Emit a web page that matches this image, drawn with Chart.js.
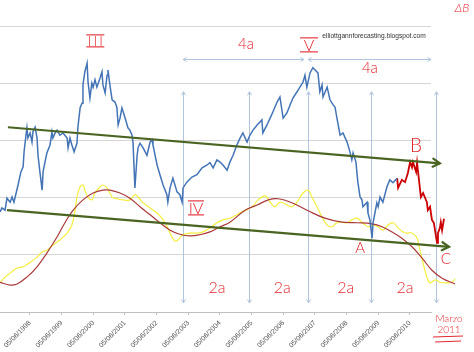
<!DOCTYPE html>
<html><head><meta charset="utf-8">
<script src="https://cdn.jsdelivr.net/npm/chart.js@4/dist/chart.umd.min.js"></script>
<style>html,body{margin:0;padding:0;background:#fff;}canvas{display:block}</style>
</head><body>
<canvas id="c" width="474" height="352"></canvas>
<script>
// ---- data (x in decimal years, y in index points) ----
const tickYears = [1998,1999,2000,2001,2002,2003,2004,2005,2006,2007,2008,2009,2010];
const X_MIN = 1997.48, X_MAX = 2011.09;

const priceDates = [1997.48,1997.54,1997.64,1997.70,1997.80,1997.86,1997.92,1997.99,1998.05,1998.14,
1998.21,1998.24,1998.30,1998.33,1998.36,1998.43,1998.49,1998.52,1998.59,1998.65,
1998.68,1998.74,1998.81,1998.84,1998.90,1998.96,1999.06,1999.12,1999.15,1999.22,
1999.28,1999.37,1999.47,1999.60,1999.63,1999.69,1999.75,1999.82,1999.91,1999.94,
2000.01,2000.07,2000.10,2000.16,2000.23,2000.26,2000.32,2000.38,2000.42,2000.48,
2000.54,2000.64,2000.70,2000.73,2000.80,2000.86,2000.89,2000.95,2001.02,2001.11,
2001.17,2001.21,2001.27,2001.33,2001.43,2001.52,2001.58,2001.65,2001.68,2001.74,
2001.81,2001.84,2001.90,2002.00,2002.12,2002.22,2002.28,2002.31,2002.44,2002.53,
2002.63,2002.75,2002.78,2002.85,2002.94,2003.07,2003.16,2003.23,2003.26,2003.38,
2003.54,2003.70,2003.86,2004.02,2004.11,2004.21,2004.33,2004.43,2004.52,2004.65,
2004.74,2004.84,2004.96,2005.06,2005.15,2005.28,2005.37,2005.47,2005.60,2005.69,
2005.75,2005.78,2005.91,2006.01,2006.10,2006.23,2006.32,2006.42,2006.54,2006.64,
2006.73,2006.86,2006.95,2007.05,2007.11,2007.17,2007.27,2007.36,2007.43,2007.52,
2007.58,2007.65,2007.68,2007.81,2007.90,2008.00,2008.06,2008.12,2008.22,2008.31,
2008.44,2008.53,2008.59,2008.63,2008.72,2008.78,2008.85,2008.91,2008.94,2009.07,
2009.10,2009.16,2009.23,2009.26,2009.38,2009.42,2009.48,2009.57,2009.70,2009.79,
2009.89,2010.02];
const priceValues = [17500,18200,17800,19900,19200,20100,19200,20800,22200,24500,
25400,28000,30900,32200,30400,31300,29700,31500,32300,30400,
27400,24500,21300,24500,26200,27800,29200,31500,30400,31300,
31800,30900,31300,30400,28700,30400,29200,28000,29500,32300,
35700,36500,39700,42000,43500,40200,37400,40000,39300,40600,
39300,40900,42000,39700,38300,41400,42300,39700,37100,36700,
35800,32700,33900,35700,33900,32200,31800,30900,29700,21700,
27400,28700,29500,28700,27400,29700,30100,29200,25700,24000,
22200,20500,19200,21700,23400,21000,20500,19200,21700,22700,
23600,24000,25200,25700,26100,25200,26600,26200,25700,24800,
26200,27400,29200,30400,31300,29700,30900,31800,32700,33200,
33600,31300,32700,33900,35000,36700,37600,33900,34800,36200,
37400,38500,39300,40200,41400,39300,41800,42700,42300,41800,
38500,39700,37600,39300,37100,36200,35800,33900,30900,31300,
29700,28000,26600,27800,26200,22700,20100,19600,18400,19200,
17300,16100,12900,15600,19100,18400,20100,19200,21900,23100,
22600,23400];

const projDates = [2010.02,2010.05,2010.17,2010.27,2010.36,2010.43,2010.49,2010.52,2010.62,2010.65,2010.71,2010.77,2010.84,2010.96,2010.99,2011.06,2011.12,2011.18,2011.28,2011.31,2011.37,2011.40,2011.44,2011.50];
const projValues = [23400,21700,23100,22700,24300,26200,25300,26200,24500,26100,23100,20100,20800,19200,17800,18400,16100,15600,12100,13800,14700,15700,14300,16300];

const oscDates = [1997.48,1997.64,1997.80,1998.02,1998.21,1998.43,1998.65,1998.81,1998.96,1999.15,
1999.37,1999.60,1999.75,1999.85,1999.91,2000.01,2000.10,2000.16,2000.26,2000.38,
2000.48,2000.64,2000.73,2000.86,2001.02,2001.17,2001.36,2001.58,2001.74,2001.84,
2002.00,2002.22,2002.44,2002.63,2002.78,2002.91,2003.01,2003.10,2003.26,2003.48,
2003.70,2003.89,2004.11,2004.33,2004.52,2004.74,2005.12,2005.44,2005.63,2005.85,
2006.01,2006.16,2006.32,2006.54,2006.70,2006.86,2007.05,2007.21,2007.33,2007.49,
2007.65,2007.81,2007.96,2008.12,2008.28,2008.44,2008.59,2008.75,2008.91,2009.10,
2009.26,2009.42,2009.57,2009.73,2009.89,2010.05,2010.21,2010.33,2010.49,2010.65,
2010.74,2010.84,2010.96,2011.06,2011.22,2011.37,2011.53,2011.75,2011.85];
const oscValues = [5100,6100,6800,7700,7900,8700,9600,10500,10800,11700,
12600,13800,15200,17800,20100,21900,22200,21300,20100,19600,
20800,21900,22200,21700,20100,19800,19600,19600,20500,20100,
19100,18200,17300,16100,14700,13100,12400,12600,13500,13800,
13800,14000,14700,15600,16100,16400,17500,18400,19600,20300,
19200,18400,19200,18700,18400,19200,20800,21300,20100,18400,
16600,15200,14900,15600,15700,15600,16100,16400,15700,14900,
15200,14900,14300,15200,15600,14700,14000,13800,13800,12900,
10800,8600,6100,5100,5600,5200,5100,5200,5800];

const cycleDates = [1997.48,1997.80,1998.02,1998.33,1998.65,1998.96,1999.28,1999.53,1999.79,2000.10,
2000.42,2000.73,2000.95,2001.27,2001.58,2001.90,2002.22,2002.53,2002.85,2003.16,
2003.48,2003.79,2004.11,2004.43,2004.74,2005.22,2005.60,2005.95,2006.26,2006.70,
2007.21,2007.74,2008.28,2008.78,2009.23,2009.54,2009.86,2010.17,2010.49,2010.81,
2011.12,2011.44,2011.85];
const cycleValues = [5200,4700,4900,6100,7900,10300,13100,15600,17800,19600,
20800,21300,21300,20800,19900,18400,17000,15600,14300,13600,
13300,13500,14000,14900,15700,17800,18700,19600,19800,19100,
17700,16400,15700,15600,15400,14900,14000,12900,11400,9400,
7300,5900,4900];

const upperTrendDates = [1997.73, 2011.37];
const upperTrendValues = [32300, 26000];
const lowerTrendDates = [1997.70, 2011.66];
const lowerTrendValues = [17800, 11400];

const cycleMarks = [2003.26, 2005.34, 2007.21, 2009.19, 2011.25];
const markTop = 38500, markBottom = 1600;
const spanStarts = [2003.26, 2007.21];
const spanEnds = [2007.08, 2011.09];
const spanLevel = 44200;

// ---- helpers ----
const pts = (xs, ys) => xs.map((x, i) => ({x, y: ys[i]}));
function line(ctx, x1, y1, x2, y2){ ctx.beginPath(); ctx.moveTo(x1,y1); ctx.lineTo(x2,y2); ctx.stroke(); }
function chevron(ctx, x, y, ang, s){
  ctx.beginPath();
  ctx.moveTo(x + s*Math.cos(ang+Math.PI*5/6), y + s*Math.sin(ang+Math.PI*5/6));
  ctx.lineTo(x, y);
  ctx.lineTo(x + s*Math.cos(ang-Math.PI*5/6), y + s*Math.sin(ang-Math.PI*5/6));
  ctx.stroke();
}
const RED = '#e3262d';
const HAND = '"Lato","Open Sans",sans-serif';

const labels = [
  {t:'4a', x:2005.25, y:46800, size:15},
  {t:'4a', x:2009.16, y:42700, size:15},
  {t:'2a', x:2004.33, y:4200, size:16},
  {t:'2a', x:2006.39, y:4200, size:16},
  {t:'2a', x:2008.40, y:4200, size:16},
  {t:'2a', x:2010.27, y:4200, size:16},
  {t:'A', x:2008.85, y:11200, size:15},
  {t:'B', x:2010.62, y:29000, size:19},
  {t:'C', x:2011.56, y:9300, size:15}
];
const romans = [
  {t:'III', x:2000.49, y:47400, w:18, h:12},
  {t:'V', x:2007.24, y:46700, w:18, h:14},
  {t:'IV', x:2003.67, y:18200, w:16, h:14}
];

const overlay = {
  id:'overlay',
  beforeDatasetsDraw(chart){
    const {ctx, scales:{x, y}} = chart;
    ctx.save();
    ctx.strokeStyle = '#b0c4de'; ctx.lineWidth = 1;
    cycleMarks.forEach(t => {
      const px = Math.round(x.getPixelForValue(t)) + 0.5;
      const top = y.getPixelForValue(markTop), bot = y.getPixelForValue(markBottom);
      line(ctx, px, top, px, bot);
      chevron(ctx, px, top, -Math.PI/2, 4);
      chevron(ctx, px, bot, Math.PI/2, 4);
    });
    spanStarts.forEach((s, i) => {
      const a = x.getPixelForValue(s), b = x.getPixelForValue(spanEnds[i]);
      const py = Math.round(y.getPixelForValue(spanLevel)) + 0.5;
      line(ctx, a, py, b, py);
      chevron(ctx, a, py, Math.PI, 4);
      chevron(ctx, b, py, 0, 4);
    });
    ctx.restore();
  },
  afterDatasetsDraw(chart){
    const {ctx, chartArea, scales:{x, y}} = chart;
    ctx.save();
    // trend arrowheads
    ctx.strokeStyle = '#4a6422'; ctx.lineWidth = 2.2; ctx.lineCap = 'round';
    [[upperTrendDates, upperTrendValues],[lowerTrendDates, lowerTrendValues]].forEach(([d, v]) => {
      const x1 = x.getPixelForValue(d[0]), y1 = y.getPixelForValue(v[0]);
      const x2 = x.getPixelForValue(d[1]), y2 = y.getPixelForValue(v[1]);
      chevron(ctx, x2, y2, Math.atan2(y2-y1, x2-x1), 8);
    });
    // handwritten notes
    ctx.fillStyle = RED; ctx.strokeStyle = RED; ctx.textAlign = 'center'; ctx.textBaseline = 'middle';
    labels.forEach(l => {
      ctx.font = '300 ' + l.size + 'px ' + HAND;
      ctx.fillText(l.t, x.getPixelForValue(l.x), y.getPixelForValue(l.y));
    });
    ctx.lineWidth = 1.1; ctx.lineCap = 'butt';
    romans.forEach(r => {
      const cx = x.getPixelForValue(r.x), cy = y.getPixelForValue(r.y);
      ctx.font = '300 ' + (r.h + 2) + 'px ' + HAND;
      try { ctx.letterSpacing = r.t === 'III' ? '2px' : '0px'; } catch(e) {}
      ctx.fillText(r.t, cx + (r.t === 'III' ? 1 : 0), cy + 1);
      try { ctx.letterSpacing = '0px'; } catch(e) {}
      line(ctx, cx - r.w/2, cy - r.h/2, cx + r.w/2, cy - r.h/2);
      line(ctx, cx - r.w/2, cy + r.h/2, cx + r.w/2, cy + r.h/2);
    });
    // Marzo 2011
    const mx = x.getPixelForValue(2011.66);
    ctx.font = '300 10px ' + HAND;
    ctx.fillText('Marzo', mx, chartArea.bottom + 7);
    ctx.fillText('2011', mx, chartArea.bottom + 18);
    ctx.lineWidth = 1;
    line(ctx, mx - 16, chartArea.bottom + 25, mx + 14, chartArea.bottom + 24);
    line(ctx, mx - 14, chartArea.bottom + 30, mx + 12, chartArea.bottom + 29);
    ctx.font = 'italic 300 12px ' + HAND;
    ctx.fillText('ΔB', x.getPixelForValue(2012.07), y.getPixelForValue(53100));
    // site name
    ctx.fillStyle = '#333'; ctx.font = '6.6px "Liberation Sans",Arial,sans-serif';
    ctx.fillText('elliottgannforecasting.blogspot.com', x.getPixelForValue(2009.29), y.getPixelForValue(48200));
    ctx.restore();
  }
};

new Chart(document.getElementById('c'), {
  type:'line',
  data:{datasets:[
    {data:pts(upperTrendDates, upperTrendValues), borderColor:'#4a6422', borderWidth:2.2, clip:false},
    {data:pts(lowerTrendDates, lowerTrendValues), borderColor:'#4a6422', borderWidth:2.2, clip:false},
    {data:pts(priceDates, priceValues), borderColor:'#4374b6', borderWidth:1.5, clip:false},
    {data:pts(projDates, projValues), borderColor:'#cc0000', borderWidth:1.8, clip:false},
    {data:pts(cycleDates, cycleValues), borderColor:'#a93a3a', borderWidth:1.2, tension:0.4, clip:false},
    {data:pts(oscDates, oscValues), borderColor:'#f4ee3c', borderWidth:1.2, tension:0.4, clip:false}
  ]},
  options:{
    responsive:false, animation:false, parsing:true,
    layout:{padding:{left:0, right:43, top:26, bottom:0}},
    plugins:{legend:{display:false}, tooltip:{enabled:false}},
    elements:{point:{radius:0}, line:{tension:0}},
    scales:{
      x:{type:'linear', bounds:'data',
        afterDataLimits(s){ s.min = X_MIN; s.max = X_MAX; },
        afterBuildTicks(s){ s.ticks = tickYears.map(yr => ({value: yr + 0.425})); },
        ticks:{autoSkip:false, maxRotation:45, minRotation:45, padding:4, color:'#555',
          font:{size:7, family:'"Liberation Sans",Arial,sans-serif'},
          callback:(v) => '05/06/' + Math.round(v - 0.425)},
        grid:{drawOnChartArea:false, drawTicks:true, tickLength:3, color:'#bfbfbf'},
        border:{color:'#bfbfbf'},
        afterFit(s){ s.height = 40; }
      },
      y:{min:0, max:50000, ticks:{display:false, stepSize:10000},
        grid:{color:'#d6d6d6', drawTicks:false}, border:{display:false},
        afterFit(s){ s.width = 0; }
      }
    }
  },
  plugins:[overlay]
});
</script>
</body></html>
